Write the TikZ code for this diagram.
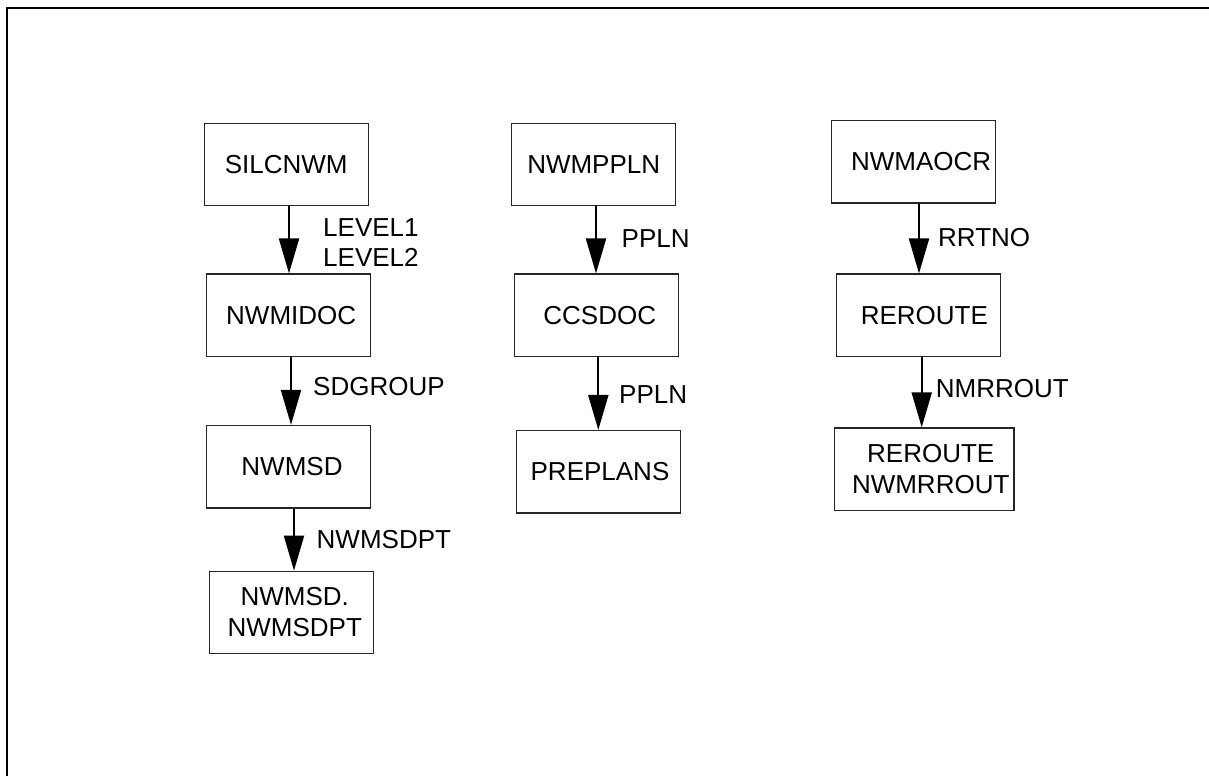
\documentclass[tikz,border=0pt]{standalone}
\usepackage{fontspec}
\setmainfont{Liberation Sans}
\usetikzlibrary{arrows.meta}
\begin{document}
\begin{tikzpicture}[x=1pt,y=-1pt,
  box/.style={draw=black!85, line width=1.3pt, minimum width=164pt, minimum height=82.4pt,
              inner sep=0pt, align=center, font=\fontsize{26}{31}\selectfont},
  lbl/.style={anchor=base west, inner sep=0pt, font=\fontsize{26}{30}\selectfont},
  lbltwo/.style={anchor=west, inner sep=0pt, align=left, font=\fontsize{26}{30}\selectfont},
  arr/.style={line width=2pt, -{Triangle[length=35pt,width=20pt]}}]
\useasboundingbox (0,0) rectangle (1209,776);
% frame
\draw[line width=2pt] (6.7,776) -- (6.7,8.3) -- (1209,8.3);
% left column
\node[box] (silcnwm) at (286.2,164.5) {SILCNWM};
\node[box] (nwmidoc) at (288.7,315.3) {\hspace*{5pt}NWMIDOC};
\node[box] (nwmsd) at (288.7,466.7) {\hspace*{6.6pt}NWMSD};
\node[box] (nwmsdpt) at (291.3,612.5) {\hspace*{7pt}NWMSD.\\\hspace*{7pt}NWMSDPT};
% middle column
\node[box] (nwmppln) at (593.7,164.5) {NWMPPLN};
\node[box] (ccsdoc) at (596.2,315.3) {\hspace*{7pt}CCSDOC};
\node[box] (preplans) at (598.7,471.8) {\hspace*{2.6pt}PREPLANS};
% right column
\node[box] (nwmaocr) at (913.7,161.7) {\hspace*{15pt}NWMAOCR};
\node[box] (reroute) at (918.8,315.3) {\hspace*{11pt}REROUTE};
\node[box, minimum width=179.7pt] (nwmrrout) at (924.2,469.2) {\hspace*{13pt}REROUTE\\\hspace*{13pt}NWMRROUT};
% arrows
\draw[arr] ([xshift=2.8pt]silcnwm.south) -- ([xshift=0.3pt]nwmidoc.north);
\draw[arr] ([xshift=2.3pt]nwmidoc.south) -- ([xshift=2.3pt]nwmsd.north);
\draw[arr] ([xshift=5.3pt]nwmsd.south) -- ([xshift=2.7pt]nwmsdpt.north);
\draw[arr] ([xshift=2.3pt]nwmppln.south) -- ([xshift=-0.2pt]ccsdoc.north);
\draw[arr] ([xshift=2.1pt]ccsdoc.south) -- ([xshift=-0.4pt]preplans.north);
\draw[arr] ([xshift=5.3pt]nwmaocr.south) -- ([xshift=0.2pt]reroute.north);
\draw[arr] ([xshift=2.9pt]reroute.south) -- ([xshift=-2.5pt]nwmrrout.north);
% labels
\node[lbltwo] (l1) at (323,242.3) {LEVEL1\\LEVEL2};
\node[lbl] (l2) at (313,395) {SDGROUP};
\node[lbl] (l3) at (316.5,548.3) {NWMSDPT};
\node[lbl] (l4) at (621.5,247.3) {PPLN};
\node[lbl] (l5) at (619,403.3) {PPLN};
\node[lbl] (l6) at (938,246.7) {RRTNO};
\node[lbl] (l7) at (935.7,397) {NMRROUT};
\end{tikzpicture}
\end{document}
